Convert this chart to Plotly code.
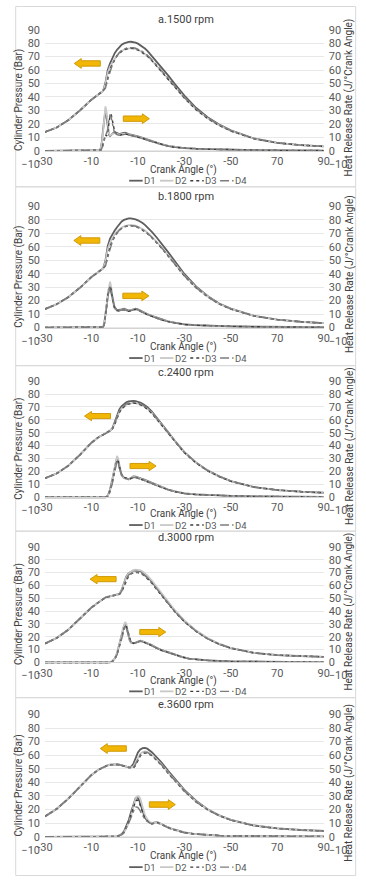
import plotly.graph_objects as go

W, H = 366, 883
FONT = "Roboto, 'Liberation Sans', Arial, sans-serif"

# ---------------- data ----------------
SERIES = ["D1", "D2", "D3", "D4"]
PANEL_TITLES = ["a.1500 rpm", "b.1800 rpm", "c.2400 rpm", "d.3000 rpm", "e.3600 rpm"]
X_TICK_VALS = [-30, -10, 10, 30, 50, 70, 90]
X_TICK_TEXT = ["-30", "-10", "-10", "-30", "-50", "70", "90"]
X_TITLE = "Crank Angle (°)"
Y_LEFT_TITLE = "Cylinder Pressure (Bar)"
Y_RIGHT_TITLE = "Heat Release Rate (J/°Crank Angle)"

# crank angle grid for cylinder pressure (all panels)
P_X = [-30, -25, -20, -15, -10, -7, -5, -4, -3, -2, -1, 0, 1, 2, 3, 4, 5, 6, 7, 8,
       9, 10, 11, 12, 13, 14, 16, 18, 20, 23, 26, 30, 35, 40, 45, 50, 60, 70, 80, 90]

# a. 1500 rpm - cylinder pressure (bar)
A_P_D1 = [14.0, 17.3, 22.8, 30.0, 38.0, 42.0, 44.5, 50.5, 60.0, 65.0, 69.0, 72.5, 75.0, 77.3, 78.8, 79.8, 80.5, 80.9, 81.0, 80.8,
          80.3, 79.6, 78.6, 77.4, 76.0, 74.4, 70.5, 66.5, 62.5, 56.0, 49.5, 41.0, 32.0, 25.0, 19.5, 15.2, 9.2, 6.0, 4.3, 3.3]
A_P_D2 = [14.0, 17.3, 22.8, 30.0, 38.0, 42.0, 44.5, 49.5, 58.0, 62.5, 65.5, 68.5, 71.0, 72.8, 74.2, 75.2, 75.8, 76.2, 76.3, 76.1,
          75.7, 75.1, 74.2, 73.2, 72.0, 70.6, 67.2, 63.4, 59.6, 53.6, 47.4, 39.4, 30.8, 24.2, 19.0, 14.8, 9.0, 5.9, 4.3, 3.3]
A_P_D3 = [14.0, 17.3, 22.8, 30.0, 38.0, 42.0, 44.5, 47.0, 54.0, 60.5, 64.5, 68.0, 70.6, 72.6, 74.0, 75.0, 75.6, 76.0, 76.1, 75.9,
          75.5, 74.9, 74.0, 73.0, 71.8, 70.4, 67.0, 63.2, 59.4, 53.4, 47.2, 39.2, 30.6, 24.0, 18.8, 14.7, 9.0, 5.9, 4.3, 3.3]
A_P_D4 = [14.0, 17.3, 22.8, 30.0, 38.0, 42.0, 44.5, 46.5, 53.0, 59.5, 64.0, 67.8, 70.8, 73.0, 74.6, 75.6, 76.3, 76.7, 76.8, 76.6,
          76.2, 75.6, 74.7, 73.7, 72.5, 71.1, 67.7, 63.9, 60.1, 54.1, 47.9, 39.8, 31.2, 24.5, 19.2, 15.0, 9.1, 6.0, 4.3, 3.3]

# b. 1800 rpm
B_P_D1 = [13.7, 17.3, 22.5, 29.5, 37.5, 41.5, 43.8, 49.5, 60.5, 66.0, 69.5, 72.0, 74.5, 76.8, 78.7, 79.9, 80.6, 81.0, 81.1, 80.8,
          80.3, 79.6, 78.8, 77.6, 76.2, 74.6, 71.0, 67.0, 62.8, 56.0, 49.0, 39.8, 30.5, 23.5, 17.8, 14.0, 8.7, 5.9, 4.3, 3.2]
B_P_D2 = [13.7, 17.3, 22.5, 29.5, 37.5, 41.5, 43.8, 48.5, 58.0, 63.0, 66.5, 69.2, 71.3, 73.0, 74.3, 75.2, 75.8, 76.1, 76.2, 76.0,
          75.6, 75.0, 74.2, 73.2, 72.0, 70.6, 67.4, 63.8, 60.0, 53.8, 47.2, 38.6, 29.8, 23.0, 17.5, 13.8, 8.6, 5.9, 4.3, 3.2]
B_P_D3 = [13.7, 17.3, 22.5, 29.5, 37.5, 41.5, 43.8, 46.0, 53.0, 60.0, 64.5, 67.8, 70.3, 72.3, 73.7, 74.6, 75.1, 75.4, 75.5, 75.3,
          74.9, 74.3, 73.5, 72.5, 71.3, 69.9, 66.7, 63.1, 59.3, 53.1, 46.6, 38.2, 29.5, 22.8, 17.4, 13.7, 8.6, 5.9, 4.3, 3.2]
B_P_D4 = [13.7, 17.3, 22.5, 29.5, 37.5, 41.5, 43.8, 45.5, 52.0, 59.0, 64.0, 67.6, 70.2, 72.3, 73.8, 74.8, 75.4, 75.7, 75.8, 75.6,
          75.2, 74.6, 73.8, 72.8, 71.6, 70.2, 67.0, 63.4, 59.6, 53.4, 46.9, 38.4, 29.7, 22.9, 17.5, 13.8, 8.6, 5.9, 4.3, 3.2]

# c. 2400 rpm
C_P_D1 = [14.7, 18.4, 24.4, 32.8, 42.3, 46.5, 48.4, 49.4, 50.4, 51.4, 53.5, 58.4, 64.0, 68.0, 70.6, 72.4, 73.6, 74.3, 74.6, 74.7,
          74.5, 74.1, 73.4, 72.4, 71.3, 69.9, 66.4, 61.6, 57.0, 50.5, 43.5, 35.0, 27.0, 20.8, 16.2, 12.5, 7.9, 5.6, 4.3, 3.5]
C_P_D2 = [14.7, 18.4, 24.4, 32.8, 42.3, 46.5, 48.4, 49.4, 50.4, 51.4, 53.0, 57.0, 62.0, 66.0, 68.8, 70.6, 71.8, 72.6, 73.0, 73.1,
          73.0, 72.6, 72.0, 71.1, 70.0, 68.7, 65.3, 60.8, 56.2, 49.8, 43.0, 34.6, 26.7, 20.6, 16.0, 12.4, 7.9, 5.6, 4.3, 3.5]
C_P_D3 = [14.7, 18.4, 24.4, 32.8, 42.3, 46.5, 48.4, 49.4, 50.4, 51.4, 52.8, 56.5, 61.5, 65.5, 68.5, 70.4, 71.6, 72.3, 72.7, 72.8,
          72.7, 72.3, 71.7, 70.8, 69.7, 68.4, 65.0, 60.5, 56.0, 49.6, 42.8, 34.4, 26.5, 20.5, 16.0, 12.4, 7.9, 5.6, 4.3, 3.5]
C_P_D4 = [14.7, 18.4, 24.4, 32.8, 42.3, 46.5, 48.4, 49.4, 50.4, 51.4, 53.2, 57.5, 62.8, 66.6, 69.3, 71.1, 72.3, 73.0, 73.4, 73.5,
          73.4, 73.0, 72.4, 71.5, 70.4, 69.1, 65.7, 61.1, 56.5, 50.0, 43.2, 34.8, 26.8, 20.7, 16.1, 12.5, 7.9, 5.6, 4.3, 3.5]

# d. 3000 rpm
D_P_D1 = [14.7, 19.0, 25.5, 34.5, 42.8, 46.8, 49.8, 50.6, 51.1, 51.5, 51.8, 52.1, 52.6, 53.4, 56.5, 62.5, 67.0, 69.5, 70.8, 71.5,
          71.8, 71.7, 71.2, 70.0, 68.6, 66.9, 62.9, 58.0, 53.4, 46.5, 39.8, 32.2, 24.6, 18.6, 14.3, 11.2, 7.4, 5.7, 4.9, 4.4]
D_P_D2 = [14.7, 19.0, 25.5, 34.5, 42.8, 46.8, 49.8, 50.6, 51.1, 51.5, 51.8, 52.1, 52.6, 53.3, 56.0, 61.5, 66.5, 69.4, 71.0, 71.9,
          72.3, 72.3, 71.8, 70.8, 69.5, 67.8, 63.8, 59.0, 54.3, 47.3, 40.5, 32.8, 25.0, 19.0, 14.6, 11.4, 7.5, 5.8, 4.9, 4.4]
D_P_D3 = [14.7, 19.0, 25.5, 34.5, 42.8, 46.8, 49.8, 50.6, 51.1, 51.5, 51.8, 52.1, 52.6, 53.1, 55.0, 59.5, 64.5, 67.5, 69.0, 69.8,
          70.1, 70.0, 69.5, 68.5, 67.2, 65.6, 61.7, 57.0, 52.5, 45.8, 39.2, 31.7, 24.2, 18.4, 14.2, 11.1, 7.4, 5.7, 4.9, 4.4]
D_P_D4 = [14.7, 19.0, 25.5, 34.5, 42.8, 46.8, 49.8, 50.6, 51.1, 51.5, 51.8, 52.1, 52.6, 53.2, 55.5, 60.5, 65.3, 68.2, 69.6, 70.3,
          70.6, 70.5, 70.0, 69.0, 67.7, 66.1, 62.2, 57.4, 52.9, 46.1, 39.5, 31.9, 24.4, 18.5, 14.3, 11.2, 7.4, 5.7, 4.9, 4.4]

# e. 3600 rpm
E_P_D1 = [15.0, 20.5, 28.0, 37.0, 45.5, 49.3, 51.2, 52.0, 52.6, 53.0, 53.2, 53.3, 53.2, 53.0, 52.7, 52.2, 51.6, 51.1, 51.5, 53.5,
          58.0, 62.0, 64.2, 65.2, 65.3, 64.8, 62.2, 58.6, 55.0, 48.5, 42.3, 34.5, 26.5, 20.3, 15.8, 12.5, 8.3, 6.2, 5.0, 4.3]
E_P_D2 = [15.0, 20.5, 28.0, 37.0, 45.5, 49.3, 51.2, 52.0, 52.6, 53.0, 53.2, 53.3, 53.2, 53.0, 52.7, 52.2, 51.6, 51.1, 51.0, 51.5,
          54.5, 58.5, 61.0, 62.3, 62.7, 62.5, 60.4, 57.0, 53.5, 47.3, 41.3, 33.8, 26.0, 20.0, 15.6, 12.4, 8.3, 6.2, 5.0, 4.3]
E_P_D3 = [15.0, 20.5, 28.0, 37.0, 45.5, 49.3, 51.2, 52.0, 52.6, 53.0, 53.2, 53.3, 53.2, 53.0, 52.7, 52.2, 51.6, 51.0, 50.6, 50.6,
          52.5, 56.5, 59.5, 61.0, 61.6, 61.5, 59.6, 56.3, 52.8, 46.7, 40.8, 33.4, 25.7, 19.8, 15.5, 12.3, 8.2, 6.1, 5.0, 4.3]
E_P_D4 = [15.0, 20.5, 28.0, 37.0, 45.5, 49.3, 51.2, 52.0, 52.6, 53.0, 53.2, 53.3, 53.2, 53.0, 52.7, 52.2, 51.6, 51.0, 50.8, 51.0,
          53.5, 57.5, 60.3, 61.7, 62.2, 62.0, 60.0, 56.6, 53.1, 47.0, 41.0, 33.6, 25.8, 19.9, 15.5, 12.3, 8.2, 6.1, 5.0, 4.3]

# heat release rate (J/deg) - crank angle grids and values per panel
A_HX = [-30, -10, -7.5, -6.5, -6, -5.5, -5, -4.5, -4, -3.5, -3, -2.5, -2, -1.5, -1, -0.5, 0, 1, 2, 3,
        4.5, 6, 8, 10, 12, 14, 16, 18, 20, 23, 26, 30, 35, 40, 50, 60, 70, 80, 90]
A_H_D1 = [0, 0, 0, 0.5, 2, 7, 16, 26, 30, 25, 17, 12, 11, 12, 13, 13.5, 14, 13, 12.5, 13,
          13.5, 12.5, 11.8, 10.8, 9.6, 8.4, 7.2, 6.0, 5.0, 3.7, 2.8, 2.1, 1.6, 1.3, 0.9, 0.6, 0.4, 0.3, 0.2]
A_H_D2 = [0, 0, 0, 0.5, 2, 6, 14, 25, 33, 29, 20, 13, 11.5, 12, 12.5, 13, 13.3, 12.6, 12.0, 12.4,
          12.8, 12.0, 11.3, 10.4, 9.3, 8.1, 7.0, 5.8, 4.9, 3.6, 2.7, 2.0, 1.5, 1.2, 0.8, 0.5, 0.4, 0.3, 0.2]
A_H_D3 = [0, 0, 0, 0, 0.5, 2, 5, 9, 12, 11, 14, 20, 26, 27, 23, 18, 14, 12, 11.5, 12,
          12.5, 12, 11.2, 10.3, 9.2, 8.0, 6.9, 5.7, 4.8, 3.5, 2.6, 2.0, 1.5, 1.2, 0.8, 0.5, 0.4, 0.3, 0.2]
A_H_D4 = [0, 0, 0, 0, 0.5, 2, 4, 8, 11, 12, 16, 23, 27, 25, 20, 16, 13.5, 12, 11.5, 11.8,
          12.3, 11.8, 11.1, 10.2, 9.1, 7.9, 6.8, 5.6, 4.7, 3.5, 2.6, 2.0, 1.5, 1.2, 0.8, 0.5, 0.4, 0.3, 0.2]

B_HX = [-30, -10, -6, -5, -4.5, -4, -3.5, -3, -2.5, -2, -1.5, -1, -0.5, 0, 1, 2, 3, 4, 5, 6,
        7, 8, 9, 10, 11, 12, 14, 16, 18, 20, 23, 26, 30, 35, 40, 50, 60, 70, 80, 90]
B_H_D1 = [0, 0, 0, 0.5, 3, 10, 18, 25, 29, 30, 27, 22, 18, 15, 13, 13, 13.5, 14, 13.2, 12.5,
          13, 13.8, 14, 13.5, 12.5, 11.5, 10, 8.6, 7.3, 6.0, 4.6, 3.5, 2.4, 1.8, 1.4, 0.9, 0.6, 0.4, 0.3, 0.2]
B_H_D2 = [0, 0, 0, 0.5, 3, 9, 17, 25, 31, 34, 30, 23, 17, 14, 12.5, 12.5, 13, 13.5, 12.8, 12.2,
          12.7, 13.4, 13.6, 13.1, 12.2, 11.2, 9.8, 8.4, 7.1, 5.9, 4.5, 3.4, 2.3, 1.7, 1.3, 0.9, 0.6, 0.4, 0.3, 0.2]
B_H_D3 = [0, 0, 0, 0.3, 2, 8, 16, 24, 29, 31, 28, 22, 17, 14, 12.5, 12.3, 12.8, 13.3, 12.7, 12.0,
          12.5, 13.2, 13.5, 13.0, 12.0, 11.0, 9.6, 8.3, 7.0, 5.8, 4.4, 3.3, 2.3, 1.7, 1.3, 0.9, 0.6, 0.4, 0.3, 0.2]
B_H_D4 = [0, 0, 0, 0.3, 2, 7, 15, 23, 28, 30, 28, 23, 18, 14.5, 12.8, 12.5, 13, 13.4, 12.8, 12.2,
          12.6, 13.3, 13.6, 13.1, 12.1, 11.1, 9.7, 8.3, 7.0, 5.8, 4.4, 3.3, 2.3, 1.7, 1.3, 0.9, 0.6, 0.4, 0.3, 0.2]

C_HX = [-30, -10, -4, -3, -2, -1, -0.5, 0, 0.5, 1, 1.5, 2, 2.5, 3, 4, 5, 6, 7, 8, 9,
        10, 11, 12, 13, 14, 15, 16, 18, 20, 23, 26, 30, 35, 40, 50, 60, 70, 80, 90]
C_H_D1 = [0, 0, 0, 1, 6, 14, 19, 23, 27, 30, 28, 23, 19, 17, 15, 14.2, 14, 14.8, 16.2, 16,
          15.2, 14.6, 14, 13.4, 12.8, 12, 11.2, 9.4, 8, 6, 4.5, 3, 2.2, 1.7, 1.1, 0.7, 0.5, 0.3, 0.2]
C_H_D2 = [0, 0, 0, 1, 5, 13, 18, 23, 28, 32, 30, 25, 20, 17, 15, 14, 13.8, 14.5, 15.8, 15.7,
          15, 14.4, 13.8, 13.2, 12.6, 11.8, 11, 9.2, 7.8, 5.9, 4.4, 3, 2.2, 1.7, 1.1, 0.7, 0.5, 0.3, 0.2]
C_H_D3 = [0, 0, 0, 0.8, 5, 12, 17, 22, 26, 29, 28, 24, 20, 17.5, 15.5, 14.5, 14, 14.5, 15.5, 15.5,
          14.8, 14.2, 13.6, 13, 12.4, 11.6, 10.8, 9.1, 7.7, 5.8, 4.3, 2.9, 2.1, 1.6, 1.1, 0.7, 0.5, 0.3, 0.2]
C_H_D4 = [0, 0, 0, 0.8, 4, 11, 16, 21, 25, 28, 27.5, 24, 20, 17.5, 15.2, 14.2, 13.8, 14.3, 15.3, 15.3,
          14.7, 14.1, 13.5, 12.9, 12.3, 11.5, 10.7, 9, 7.6, 5.8, 4.3, 2.9, 2.1, 1.6, 1.1, 0.7, 0.5, 0.3, 0.2]

D_HX = [-30, -10, -2, -1, 0, 1, 2, 3, 3.5, 4, 4.5, 5, 5.5, 6, 6.5, 7, 8, 9, 10, 11,
        12, 13, 14, 16, 18, 20, 23, 26, 29, 32, 36, 40, 50, 60, 70, 80, 90]
D_H_D1 = [0, 0, 0, 1, 3, 7, 14, 22, 26, 28.5, 30, 28, 24, 20, 17, 15.5, 15, 15.5, 16.5, 17,
          16.5, 15.8, 15, 13.5, 11.5, 9.8, 8, 6, 4.3, 3, 2.2, 1.6, 0.9, 0.6, 0.4, 0.3, 0.2]
D_H_D2 = [0, 0, 0, 1, 3, 7, 13, 21, 26, 29.5, 31.5, 30, 26, 21, 17.5, 15.8, 15, 15.3, 16.2, 16.8,
          16.3, 15.6, 14.8, 13.3, 11.3, 9.6, 7.9, 5.9, 4.2, 3, 2.2, 1.6, 0.9, 0.6, 0.4, 0.3, 0.2]
D_H_D3 = [0, 0, 0, 0.8, 2.5, 6, 12, 19, 23.5, 27, 29, 28.5, 25, 21, 17.8, 16, 15, 15.2, 16, 16.6,
          16.1, 15.4, 14.6, 13.1, 11.2, 9.5, 7.8, 5.9, 4.2, 3, 2.2, 1.6, 0.9, 0.6, 0.4, 0.3, 0.2]
D_H_D4 = [0, 0, 0, 0.8, 2.5, 6, 12, 19, 23, 26, 28, 28, 25.5, 21.5, 18, 16.2, 15.1, 15.2, 16, 16.5,
          16, 15.3, 14.5, 13, 11.1, 9.4, 7.7, 5.8, 4.1, 2.9, 2.1, 1.6, 0.9, 0.6, 0.4, 0.3, 0.2]

E_HX = [-30, -10, 0, 1, 2, 3, 4, 5, 6, 7, 7.5, 8, 8.5, 9, 9.5, 10, 10.5, 11, 11.5, 12,
        13, 14, 15, 16, 17, 18, 19, 20, 22, 24, 27, 30, 34, 38, 45, 50, 60, 70, 80, 90]
E_H_D1 = [0, 0, 0, 0.3, 1, 2, 4, 7.5, 12, 18, 21, 24, 26.5, 28.5, 29, 28.5, 27, 24.5, 21, 18,
          14, 12, 10.5, 9.8, 10.3, 10.9, 10.3, 9.3, 7.8, 6.2, 4.5, 3.2, 2.2, 1.6, 0.9, 0.7, 0.4, 0.3, 0.2, 0.2]
E_H_D2 = [0, 0, 0, 0.2, 0.8, 1.5, 3, 6, 10, 15.5, 19, 22.5, 25.5, 28, 29.5, 30, 29.5, 28, 25, 21.5,
          16, 13, 11, 10, 10.3, 10.8, 10.2, 9.2, 7.7, 6.1, 4.4, 3.1, 2.2, 1.6, 0.9, 0.7, 0.4, 0.3, 0.2, 0.2]
E_H_D3 = [0, 0, 0, 0.2, 0.8, 1.6, 3.2, 6.5, 11, 16, 19, 22, 24.5, 26.3, 27, 26.8, 25.5, 23, 20, 17,
          13.5, 11.8, 10.3, 9.6, 10, 10.5, 10, 9.1, 7.6, 6, 4.4, 3.1, 2.1, 1.5, 0.9, 0.7, 0.4, 0.3, 0.2, 0.2]
E_H_D4 = [0, 0, 0, 0.2, 0.8, 1.5, 3, 6, 10, 14, 16.5, 18.5, 20.5, 21.8, 22, 21.5, 20.5, 19, 17.2, 15.5,
          12.8, 11.3, 10, 9.4, 9.7, 10.1, 9.7, 8.9, 7.5, 5.9, 4.3, 3, 2.1, 1.5, 0.9, 0.7, 0.4, 0.3, 0.2, 0.2]

PRESSURE = [[A_P_D1, A_P_D2, A_P_D3, A_P_D4], [B_P_D1, B_P_D2, B_P_D3, B_P_D4],
            [C_P_D1, C_P_D2, C_P_D3, C_P_D4], [D_P_D1, D_P_D2, D_P_D3, D_P_D4],
            [E_P_D1, E_P_D2, E_P_D3, E_P_D4]]
HRR_X = [A_HX, B_HX, C_HX, D_HX, E_HX]
HRR = [[A_H_D1, A_H_D2, A_H_D3, A_H_D4], [B_H_D1, B_H_D2, B_H_D3, B_H_D4],
       [C_H_D1, C_H_D2, C_H_D3, C_H_D4], [D_H_D1, D_H_D2, D_H_D3, D_H_D4],
       [E_H_D1, E_H_D2, E_H_D3, E_H_D4]]

# ---------------- styling / layout ----------------
STYLES = [dict(color="#5e5e5e", width=1.8, dash="solid"),
          dict(color="#c8c8c8", width=1.8, dash="solid"),
          dict(color="#3c3c3c", width=1.4, dash="dot"),
          dict(color="#7c7c7c", width=1.4, dash="dashdot")]

# pixel geometry of each panel: (y of 90 line, y of -10 line, title y, x-title y, legend y, box top, box bottom)
GEOM = [(24.0, 160.7, 13.3, 166.2, 177.3, 0.5, 183.5),
        (203.3, 340.0, 193.3, 346.2, 357.3, 183.5, 365.0),
        (380.7, 511.7, 372.3, 515.4, 526.8, 365.0, 533.0),
        (549.0, 679.3, 539.3, 684.8, 695.6, 533.0, 702.0),
        (719.0, 857.0, 709.3, 863.0, 874.0, 702.0, 882.5)]
PLOT_L, PLOT_R = 38.5, 328.3
LEG_X0 = [126, 158, 189.5, 220.5]   # legend sample start (px)
LEG_LEN = 14
# block arrows (centre x, centre y in data units, direction)
ARROWS = [[(-11.8, 64.9, -1), (9.3, 23.9, 1)],
          [(-12.0, 64.6, -1), (9.1, 23.5, 1)],
          [(-7.4, 62.9, -1), (12.2, 24.2, 1)],
          [(-5.0, 64.9, -1), (16.4, 23.7, 1)],
          [(-0.6, 64.9, -1), (20.5, 23.7, 1)]]


def py(p):
    return 1 - p / H


def px(p):
    return p / W


fig = go.Figure()
layout = dict(width=W, height=H, margin=dict(l=0, r=0, t=0, b=0),
              paper_bgcolor="white", plot_bgcolor="white",
              font=dict(family=FONT, color="#595959", size=11),
              showlegend=False, hovermode=False)
annotations = []
shapes = []

for i in range(5):
    top, bot, ty, xty, ly, btop, bbot = GEOM[i]
    xs = "x" if i == 0 else f"x{i+1}"
    yl = f"y{2*i+1}" if i else "y"
    yr = f"y{2*i+2}"
    xkey = "xaxis" if i == 0 else f"xaxis{i+1}"
    ylkey = "yaxis" if i == 0 else f"yaxis{2*i+1}"
    yrkey = f"yaxis{2*i+2}"
    zero_pix = bot - (bot - top) * 10 / 100

    for s in range(4):
        fig.add_trace(go.Scatter(x=P_X, y=PRESSURE[i][s], mode="lines", name=SERIES[s],
                                 line=STYLES[s], xaxis=xs, yaxis=yl, showlegend=False))
    for s in range(4):
        fig.add_trace(go.Scatter(x=HRR_X[i], y=HRR[i][s], mode="lines", name=SERIES[s],
                                 line=STYLES[s], xaxis=xs, yaxis=yr, showlegend=False))

    layout[xkey] = dict(domain=[px(PLOT_L), px(PLOT_R)], range=[-30, 90], anchor="free",
                        position=py(zero_pix), tickmode="array", tickvals=X_TICK_VALS,
                        ticktext=X_TICK_TEXT, showgrid=False, zeroline=False, showline=True,
                        linecolor="#d4d4d4", linewidth=1, ticks="",
                        tickfont=dict(size=11, color="#595959"))
    layout[ylkey] = dict(domain=[py(bot), py(top)], range=[-10, 90], anchor=xs,
                         tickmode="linear", tick0=0, dtick=10, showgrid=True,
                         gridcolor="#e8e8e8", gridwidth=1, zeroline=False, showline=False,
                         ticks="", ticklabelstandoff=4, tickfont=dict(size=11, color="#595959"))
    layout[yrkey] = dict(domain=[py(bot), py(top)], range=[-10, 90], anchor=xs, overlaying=yl,
                         side="right", tickmode="linear", tick0=0, dtick=10, showgrid=False,
                         zeroline=False, showline=False, ticks="", ticklabelstandoff=4,
                         tickfont=dict(size=11, color="#595959"))

    mid = (top + bot) / 2
    annotations += [
        dict(text=PANEL_TITLES[i], x=px(185), y=py(ty), xref="paper", yref="paper",
             showarrow=False, font=dict(size=11, color="#404040"), xanchor="center", yanchor="middle"),
        dict(text=X_TITLE, x=px(182), y=py(xty), xref="paper", yref="paper",
             showarrow=False, font=dict(size=10, color="#404040"), xanchor="center", yanchor="middle",
             borderpad=0),
        dict(text=Y_LEFT_TITLE, x=px(11.5), y=py(mid + 3), xref="paper", yref="paper", textangle=-90,
             showarrow=False, font=dict(size=10, color="#404040"), xanchor="center", yanchor="middle"),
        dict(text=Y_RIGHT_TITLE, x=px(355), y=py(mid), xref="paper", yref="paper", textangle=-90,
             showarrow=False, font=dict(size=10, color="#404040"), xanchor="center", yanchor="middle"),
    ]
    # legend (compact, one row under the axis title)
    for s in range(4):
        x0 = LEG_X0[s]
        shapes.append(dict(type="line", xref="paper", yref="paper", x0=px(x0), x1=px(x0 + LEG_LEN),
                           y0=py(ly), y1=py(ly), line=STYLES[s]))
        annotations.append(dict(text=SERIES[s], x=px(x0 + LEG_LEN + 0.5), y=py(ly), xref="paper",
                                yref="paper", showarrow=False, xanchor="left", yanchor="middle",
                                borderpad=0, font=dict(size=9.5, color="#595959")))
    shapes.append(dict(type="rect", xref="paper", yref="paper", x0=px(8), x1=px(361.5),
                       y0=py(bbot), y1=py(btop), line=dict(color="#d9d9d9", width=1),
                       fillcolor="rgba(0,0,0,0)", layer="below"))

    for (cx, cy, d) in ARROWS[i]:
        L, bh, hh, hl = 11.2, 2.0, 3.6, 3.0
        if d < 0:
            tip, back, neck = cx - L / 2, cx + L / 2, cx - L / 2 + hl
        else:
            tip, back, neck = cx + L / 2, cx - L / 2, cx + L / 2 - hl
        path = (f"M {tip},{cy} L {neck},{cy+hh} L {neck},{cy+bh} L {back},{cy+bh} "
                f"L {back},{cy-bh} L {neck},{cy-bh} L {neck},{cy-hh} Z")
        shapes.append(dict(type="path", xref=xs, yref=yl, path=path,
                           fillcolor="#f2b705", line=dict(color="#d09a0a", width=1), layer="above"))

layout["annotations"] = annotations
layout["shapes"] = shapes
fig.update_layout(**layout)
fig.write_html("out.html", config={"displayModeBar": False},
               post_script="document.body.style.margin='0';")
